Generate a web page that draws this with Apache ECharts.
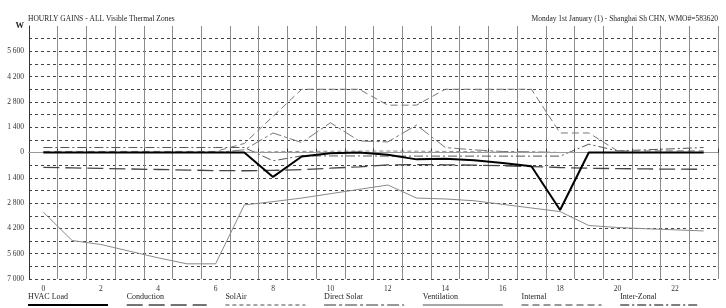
<!DOCTYPE html>
<html><head><meta charset="utf-8">
<script src="https://cdn.jsdelivr.net/npm/echarts@6/dist/echarts.min.js"></script>
<style>html,body{margin:0;padding:0;background:#fff}#c{width:726px;height:308px}</style>
</head><body><div id="c"></div>
<script>
const hours = ['0','1','2','3','4','5','6','7','8','9','10','11','12','13','14','15','16','17','18','19','20','21','22','23'];
const yTickLabels = ['W','5 600','4 200','2 800','1 400','0','1 400','2 800','4 200','5 600','7 000'];
const seriesNames = ['HVAC Load','Conduction','SolAir','Direct Solar','Ventilation','Internal','Inter-Zonal'];
const hvacLoad    = [0,0,0,0,0,0,0,0,-1350,-220,-40,0,-120,-380,-340,-430,-580,-760,-3180,0,0,0,0,0];
const conduction  = [-820,-850,-880,-910,-940,-970,-1000,-1010,-990,-950,-870,-790,-690,-670,-680,-700,-730,-780,-830,-870,-890,-910,-920,-930];
const solAir      = [0,0,0,0,0,0,0,10,40,60,70,80,80,70,60,40,20,10,0,0,0,0,0,0];
const directSolar = [0,0,0,0,0,0,0,150,1080,550,1650,640,585,1520,275,145,55,40,0,0,0,0,0,0];
const ventilation = [-3300,-4870,-5090,-5460,-5830,-6160,-6160,-2900,-2720,-2520,-2280,-2040,-1800,-2520,-2570,-2670,-2870,-3070,-3270,-4040,-4150,-4220,-4280,-4340];
const internal    = [60,60,60,60,60,60,60,500,2000,3500,3500,3500,2620,2620,3500,3500,3500,3500,1080,1080,90,90,90,90];
const interZonal  = [275,275,275,275,275,275,275,275,-460,-185,-190,-190,-200,-200,-200,-200,-200,-200,-200,460,90,150,210,275];

const styles = [
  {color:'#000', width:2, type:'solid'},
  {color:'#444', width:1.3, type:[16,6]},
  {color:'#888', width:1, type:[4,3]},
  {color:'#777', width:1, type:[12,3,3,3]},
  {color:'#8a8a8a', width:1, type:'solid'},
  {color:'#777', width:1, type:[7,4]},
  {color:'#555', width:1, type:[9,3,2,3]}
];
const dataSets = [hvacLoad, conduction, solAir, directSolar, ventilation, internal, interZonal];
const order = [4,1,2,3,6,5,0];
const FONT = 'Liberation Serif';

const series = order.map(i => ({
  name: seriesNames[i], type:'line', data: dataSets[i], symbol:'none', silent:true,
  lineStyle: {color: styles[i].color, width: styles[i].width, type: styles[i].type},
  z: i===0 ? 10 : 3,
  animation:false
}));
series[0].markLine = {silent:true, symbol:'none', label:{show:false},
  lineStyle:{color:'#999', width:1, type:'solid'}, data:[{yAxis:0}], animation:false};

const graphics = [];
seriesNames.forEach((n,i) => {
  const x0 = 28 + i*98.7;
  graphics.push({type:'text', left:x0, top:293, style:{text:n, font:'8px "'+FONT+'"', fill:'#222'}});
  graphics.push({type:'line', shape:{x1:x0, y1:305, x2:x0+80, y2:305},
    style:{stroke:styles[i].color, lineWidth:styles[i].width===2?2:1.3, lineDash: styles[i].type==='solid'?null:styles[i].type}});
});

const chart = echarts.init(document.getElementById('c'));
chart.setOption({
  backgroundColor:'#fff',
  animation:false,
  title:[
    {text:'HOURLY GAINS - ALL Visible Thermal Zones', left:28, top:15, padding:0, textStyle:{fontFamily:FONT, fontSize:7.5, fontWeight:'normal', color:'#222'}},
    {text:'Monday 1st January (1) - Shanghai Sh CHN, WMO#=583620', right:8, top:15, padding:0, textStyle:{fontFamily:FONT, fontSize:7.5, fontWeight:'normal', color:'#222'}}
  ],
  grid:{left:29, right:8, top:26, bottom:29, containLabel:false},
  xAxis:{type:'category', data:hours, boundaryGap:true,
    axisLine:{lineStyle:{color:'#333', width:1}},
    axisTick:{show:true, inside:true, length:4, interval:0, lineStyle:{color:'#333'}},
    axisLabel:{interval:1, fontFamily:FONT, fontSize:7.5, color:'#333', margin:6},
    splitLine:{show:true, interval:0, lineStyle:{color:'#8c8c8c', width:1}}
  },
  yAxis:{type:'value', min:-7000, max:7000, interval:700,
    axisLine:{show:true, lineStyle:{color:'#333'}},
    axisTick:{show:false},
    axisLabel:{fontFamily:FONT, fontSize:7.5, color:'#333', margin:5,
      formatter: v => { if (Math.round(v) % 1400 !== 0) return ''; const idx = Math.round((7000 - v)/1400); return idx===0 ? '{w|'+yTickLabels[0]+'}' : yTickLabels[idx]; },
      rich:{w:{fontFamily:FONT, fontSize:8.5, fontWeight:'bold', color:'#222'}}},
    splitLine:{show:true, showMaxLine:false, lineStyle:{color:'#444', width:1, type:[3,3]}}
  },
  series: series,
  graphic: graphics
});
</script></body></html>
